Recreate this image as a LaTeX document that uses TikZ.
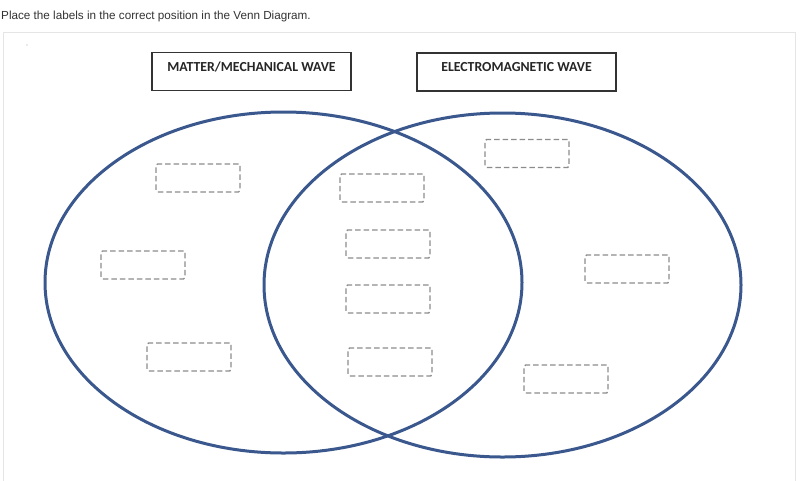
\documentclass[tikz,border=0pt]{standalone}
\usepackage{fontspec}
\setmainfont{Liberation Sans}
\newfontfamily\calib{Carlito}
\begin{document}
\begin{tikzpicture}[x=1pt,y=-1pt,
  titlebox/.style={draw=black!80,line width=1.4pt,minimum width=199pt,minimum height=38pt,inner sep=0pt},
  titletext/.style={font=\calib\bfseries\fontsize{13.8}{16}\selectfont,text=black!85},
  slot/.style={draw=black!45,dash pattern=on 5.5pt off 3pt,line width=1.4pt,rounded corners=1.5pt,minimum width=84pt,minimum height=28pt,inner sep=0pt},
  venn/.style={draw={rgb,255:red,58;green,88;blue,141},line width=3pt}]
\useasboundingbox (0,0) rectangle (800,480);
\fill[white] (0,0) rectangle (800,480);
\node[anchor=west,inner sep=0pt,font=\fontsize{11.7}{14}\selectfont,text=black!80] (prompt) at (1,16) {Place the labels in the correct position in the Venn Diagram.};
\draw[black!10,line width=0.8pt] (3,481) -- (3,32) -- (795,32) -- (795,481);
\fill[black!35] (27,45) circle (0.6);
% title boxes
\node[titlebox] (mm) at (251.5,71.5) {};
\node[titletext] (mmt) at (251.5,66.5) {MATTER/MECHANICAL WAVE};
\node[titlebox] (em) at (516.5,72) {};
\node[titletext] (emt) at (516.5,67) {ELECTROMAGNETIC WAVE};
% venn circles
\draw[venn] (283.5,282.5) ellipse [x radius=238.5, y radius=170.5];
\draw[venn] (502.5,285) ellipse [x radius=238.5, y radius=172];
% slots
\node[slot] (s1) at (198,178) {};
\node[slot] (s2) at (143,265) {};
\node[slot] (s3) at (189,357) {};
\node[slot] (s4) at (382,188) {};
\node[slot] (s5) at (388,244) {};
\node[slot] (s6) at (388,299) {};
\node[slot] (s7) at (390,362) {};
\node[slot] (s8) at (527,153.5) {};
\node[slot] (s9) at (627,269) {};
\node[slot] (s10) at (566,379) {};
\end{tikzpicture}
\end{document}
